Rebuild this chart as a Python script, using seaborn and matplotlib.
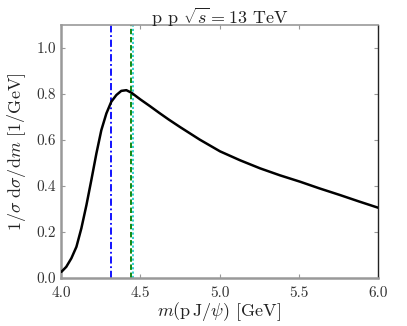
import numpy as np
import pandas as pd
import matplotlib
matplotlib.use("Agg")
import matplotlib.pyplot as plt
import seaborn as sns

# data
mass = [4.002, 4.033, 4.065, 4.097, 4.128, 4.16, 4.191, 4.223, 4.254, 4.286,
        4.317, 4.349, 4.38, 4.412, 4.444, 4.5, 4.56, 4.62, 4.68, 4.75,
        4.875, 5.003, 5.13, 5.256, 5.38, 5.508, 5.63, 5.76, 5.88, 6.0]
dsig = [0.027, 0.049, 0.086, 0.136, 0.216, 0.317, 0.426, 0.542, 0.643, 0.716,
        0.767, 0.796, 0.814, 0.817, 0.806, 0.777, 0.748, 0.718, 0.689, 0.657,
        0.602, 0.551, 0.512, 0.477, 0.447, 0.419, 0.390, 0.361, 0.333, 0.306]
pc_masses = [4.312, 4.440, 4.457]
pc_colors = ["blue", "green", "#22cccc"]
pc_dashes = [(4, 1.5, 1, 1.5), (3, 1.5), (1.2, 1.2)]
xticks = [4.0, 4.5, 5.0, 5.5, 6.0]
yticks = [0.0, 0.2, 0.4, 0.6, 0.8, 1.0]

sns.set_theme(style="white")
plt.rcParams["font.family"] = ["cmr10", "DejaVu Serif"]
plt.rcParams["mathtext.fontset"] = "cm"
plt.rcParams["axes.formatter.use_mathtext"] = True

fig = plt.figure(figsize=(4.07, 3.26), dpi=100)
ax = fig.add_axes([0.150, 0.147, 0.779, 0.776])

df = pd.DataFrame({"m": mass, "v": dsig})
for xm, c, d in zip(pc_masses, pc_colors, pc_dashes):
    ax.axvline(xm, color=c, lw=1.3, dashes=d, zorder=1)
sns.lineplot(data=df, x="m", y="v", ax=ax, color="black", lw=1.8, zorder=3)

ax.set_xlim(4.0, 6.0)
ax.set_ylim(0.0, 1.1)
ax.set_xticks(xticks)
ax.set_yticks(yticks)
ax.set_xticklabels([f"{t:.1f}" for t in xticks])
ax.set_yticklabels([f"{t:.1f}" for t in yticks])
ax.tick_params(direction="in", length=3, width=0.8, color="#999999",
               labelsize=11, labelcolor="#333333", top=True, right=True,
               bottom=True, left=True)
ax.tick_params(axis="x", pad=6)
for side in ["left", "bottom"]:
    ax.spines[side].set_color("#999999")
    ax.spines[side].set_linewidth(1.8)
ax.spines["top"].set_color("#999999")
ax.spines["top"].set_linewidth(1.2)
ax.spines["right"].set_color("#222222")
ax.spines["right"].set_linewidth(1.0)

ax.set_xlabel(r"$m(\mathrm{p\,J}/\psi)$ [GeV]", fontsize=13, color="#222222", labelpad=0)
ax.set_ylabel(r"$1/\sigma\ \mathrm{d}\sigma/\mathrm{d}m$ [1/GeV]", fontsize=13, color="#222222", labelpad=6)
ax.set_title(r"p p $\sqrt{s} = 13$ TeV", fontsize=13, color="#222222", pad=1)

fig.savefig("out.png", dpi=100)
